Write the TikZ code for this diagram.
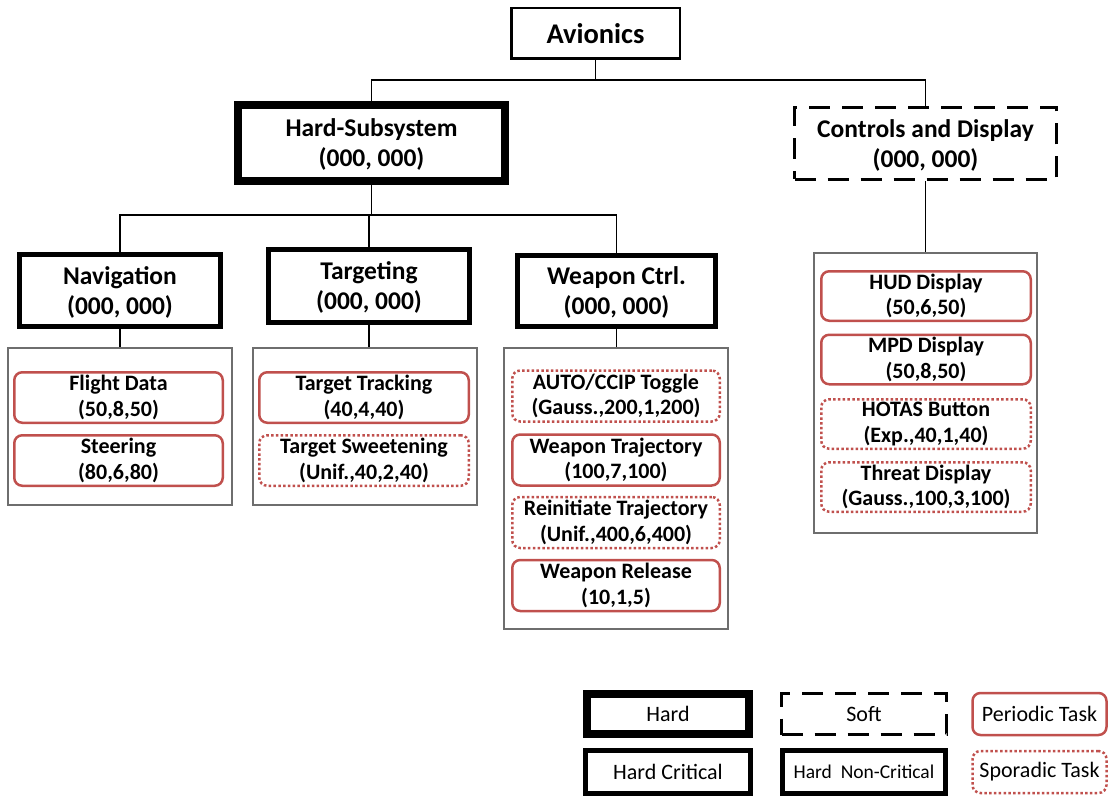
\documentclass[tikz,border=0pt]{standalone}
\usepackage{fontspec}
\setmainfont{Carlito}
\definecolor{taskred}{RGB}{192,80,77}
\definecolor{groupgray}{RGB}{110,110,110}
\tikzset{
  every node/.style={align=center, inner sep=0pt},
  topbox/.style={draw, line width=2.5pt, font=\fontsize{28.5}{32}\selectfont\bfseries},
  hardbox/.style={draw, line width=8pt, text depth=-3pt, font=\fontsize{25.5}{30}\selectfont\bfseries},
  softbox/.style={draw, line width=3pt, text depth=-3pt, dash pattern=on 21pt off 12pt, font=\fontsize{25.5}{30}\selectfont\bfseries},
  critbox/.style={draw, line width=5pt, text depth=-3pt, font=\fontsize{25.5}{30}\selectfont\bfseries},
  groupbox/.style={draw=groupgray, line width=1.2pt},
  periodic/.style={draw=taskred, line width=2.5pt, rounded corners=8pt, font=\fontsize{22}{25.5}\selectfont\bfseries},
  sporadic/.style={periodic, dash pattern=on 2.5pt off 2.3pt},
  legendtext/.style={text depth=, font=\fontsize{22}{24}\selectfont},
  link/.style={line width=1.5pt},
}
\begin{document}
\begin{tikzpicture}[x=1pt, y=-1pt]
\useasboundingbox (0,0) rectangle (1109,797);

% top level
\node[topbox, minimum width=168.5pt, minimum height=50.5pt] (av) at (595.5,33.5) {Avionics};

% subsystems
\node[hardbox, minimum width=267pt, minimum height=76pt] (hs) at (371.5,143) {Hard-Subsystem\\(000, 000)};
\node[softbox, minimum width=262pt, minimum height=72pt] (cd) at (925.5,143.5) {Controls and Display\\(000, 000)};

% hard components
\node[critbox, minimum width=201pt, minimum height=72pt] (nav) at (120,290.5) {Navigation\\(000, 000)};
\node[critbox, minimum width=201pt, minimum height=73pt] (tgt) at (369,286) {Targeting\\(000, 000)};
\node[critbox, minimum width=198pt, minimum height=71pt] (wpn) at (616.5,291) {Weapon Ctrl.\\(000, 000)};

% task groups
\node[groupbox, minimum width=224pt, minimum height=157pt] (navg) at (120,426.5) {};
\node[groupbox, minimum width=224pt, minimum height=157pt] (tgtg) at (365,426.5) {};
\node[groupbox, minimum width=224pt, minimum height=281pt] (wpng) at (616,488.5) {};
\node[groupbox, minimum width=223pt, minimum height=280pt] (cdg) at (925.5,393) {};

% navigation tasks
\node[periodic, minimum width=208.5pt, minimum height=50.5pt] (fd) at (118.5,397.5) {Flight Data\\(50,8,50)};
\node[periodic, minimum width=208.5pt, minimum height=50.5pt] (st) at (118.5,460.5) {Steering\\(80,6,80)};

% targeting tasks
\node[periodic, minimum width=209.5pt, minimum height=50.5pt] (tt) at (364,397.5) {Target Tracking\\(40,4,40)};
\node[sporadic, minimum width=209.5pt, minimum height=50.5pt] (ts) at (364,460.5) {Target Sweetening\\(Unif.,40,2,40)};

% weapon control tasks
\node[sporadic, minimum width=207.5pt, minimum height=51pt] (ac) at (616,396) {AUTO/CCIP Toggle\\(Gauss.,200,1,200)};
\node[periodic, minimum width=207.5pt, minimum height=51pt] (wt) at (616,460) {Weapon Trajectory\\(100,7,100)};
\node[sporadic, minimum width=207.5pt, minimum height=51pt] (rt) at (616,522.5) {Reinitiate Trajectory\\(Unif.,400,6,400)};
\node[periodic, minimum width=207.5pt, minimum height=51pt] (wr) at (616,585.5) {Weapon Release\\(10,1,5)};

% controls and display tasks
\node[periodic, minimum width=209.5pt, minimum height=49.5pt] (hud) at (926,296) {HUD Display\\(50,6,50)};
\node[periodic, minimum width=209.5pt, minimum height=49.5pt] (mpd) at (926,359.5) {MPD Display\\(50,8,50)};
\node[sporadic, minimum width=209.5pt, minimum height=49.5pt] (hot) at (926,424) {HOTAS Button\\(Exp.,40,1,40)};
\node[sporadic, minimum width=209.5pt, minimum height=49.5pt] (thr) at (926,487) {Threat Display\\(Gauss.,100,3,100)};

% tree connectors
\coordinate (bus1) at (597,80);
\coordinate (bus2) at (370,215);
\draw[link] (av.south) -- (av.south |- bus1) -| (hs.north);
\draw[link] (av.south |- bus1) -| (cd.north);
\draw[link] (hs.south) -- (hs.south |- bus2) -| (nav.north);
\draw[link] (hs.south |- bus2) -| (tgt.north);
\draw[link] (hs.south |- bus2) -| (wpn.north);
\draw[link] (nav.south) -- (navg.north -| nav.south);
\draw[link] (tgt.south) -- (tgtg.north -| tgt.south);
\draw[link] (wpn.south) -- (wpng.north -| wpn.south);
\draw[link] (cd.south) -- (cdg.north -| cd.south);

% legend
\node[hardbox, legendtext, minimum width=162pt, minimum height=40pt] (lhard) at (668,714) {Hard};
\node[critbox, legendtext, minimum width=165pt, minimum height=43pt] (lcrit) at (668,772) {Hard Critical};
\node[softbox, legendtext, minimum width=165pt, minimum height=41pt] (lsoft) at (864,714) {Soft};
\node[critbox, text depth=, font=\fontsize{19.5}{22}\selectfont, minimum width=163pt, minimum height=43pt] (lnon) at (864,772) {Hard~~Non-Critical};
\node[periodic, legendtext, font=\fontsize{22}{24}\selectfont, minimum width=134pt, minimum height=42pt] (lper) at (1039.5,714) {Periodic Task};
\node[sporadic, legendtext, font=\fontsize{22}{24}\selectfont, minimum width=134pt, minimum height=42pt] (lspo) at (1039.5,772) {Sporadic Task};
\end{tikzpicture}
\end{document}
